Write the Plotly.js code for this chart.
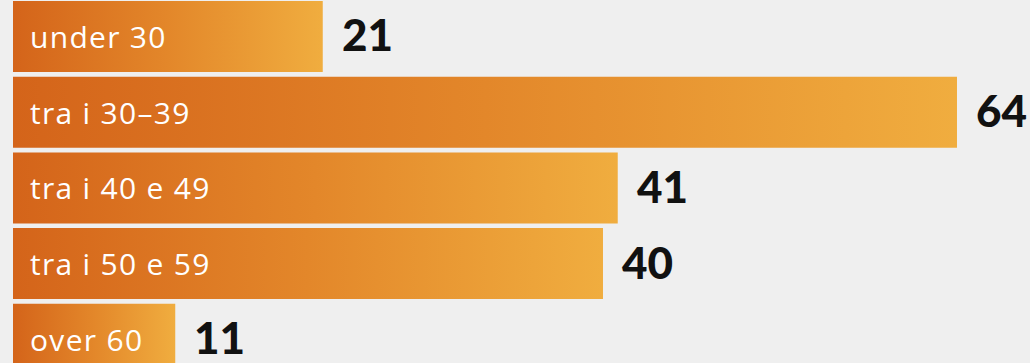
<!DOCTYPE html>
<html>
<head>
<meta charset="utf-8">
<script src="https://cdn.plot.ly/plotly-3.0.1.min.js"></script>
<style>
html,body{margin:0;padding:0;background:#efefef;}
#chart{width:1030px;height:363px;}
</style>
</head>
<body>
<div id="chart"></div>
<script>
const categories = ["under 30", "tra i 30–39", "tra i 40 e 49", "tra i 50 e 59", "over 60"];
const values = [21, 64, 41, 40, 11];

const annotations = [];
categories.forEach((c, i) => {
  annotations.push({
    x: 0, y: i, xref: 'x', yref: 'y', text: c, showarrow: false, align: 'left',
    xanchor: 'left', yanchor: 'middle', xshift: 15, yshift: 0,
    font: {family: 'Open Sans', size: 30, color: '#ffffff'}
  });
  annotations.push({
    x: values[i], y: i, xref: 'x', yref: 'y', text: String(values[i]), showarrow: false,
    xanchor: 'left', yanchor: 'middle', xshift: 18, yshift: 2, borderpad: 0,
    font: {family: 'Lato', size: 44, color: '#111111', weight: 900}
  });
});

const data = [{
  type: 'bar',
  orientation: 'h',
  x: values,
  y: categories.map((c, i) => i),
  marker: {color: '#e2862a', line: {width: 0}},
  hoverinfo: 'none'
}];

const layout = {
  width: 1030, height: 363,
  margin: {l: 13, r: 0, t: 0, b: 0, pad: 0},
  paper_bgcolor: '#efefef',
  plot_bgcolor: 'rgba(0,0,0,0)',
  bargap: 0.062,
  showlegend: false,
  xaxis: {range: [0, 68.95], visible: false, fixedrange: true},
  yaxis: {range: [4.313, -0.482], visible: false, fixedrange: true},
  annotations: annotations
};

Plotly.newPlot('chart', data, layout, {displayModeBar: false, staticPlot: true}).then(gd => {
  const svg = gd.querySelector('svg.main-svg');
  const NS = 'http://www.w3.org/2000/svg';
  let defs = svg.querySelector('defs');
  if (!defs) { defs = document.createElementNS(NS, 'defs'); svg.insertBefore(defs, svg.firstChild); }
  const lg = document.createElementNS(NS, 'linearGradient');
  lg.setAttribute('id', 'barGrad');
  lg.setAttribute('x1', '0'); lg.setAttribute('y1', '0');
  lg.setAttribute('x2', '1'); lg.setAttribute('y2', '0');
  [['0', '#d4641a'], ['0.5', '#e3872a'], ['1', '#f0ad3f']].forEach(([o, c]) => {
    const s = document.createElementNS(NS, 'stop');
    s.setAttribute('offset', o); s.setAttribute('stop-color', c);
    lg.appendChild(s);
  });
  defs.appendChild(lg);
  gd.querySelectorAll('.bars .point path').forEach(p => { p.style.fill = 'url(#barGrad)'; });
  gd.querySelectorAll('.annotation-text').forEach(t => {
    if ((t.style.fill || '').indexOf('255, 255, 255') >= 0) t.style.letterSpacing = '1.3px';
  });
});
</script>
</body>
</html>
